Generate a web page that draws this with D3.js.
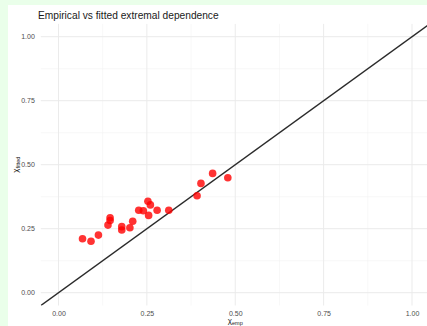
<!DOCTYPE html>
<html>
<head>
<meta charset="utf-8">
<script src="https://cdn.jsdelivr.net/npm/d3@7"></script>
<style>
  body { margin: 0; background: #eaffea; }
  svg { display: block; }
</style>
</head>
<body>
<div id="chart"></div>
<script>
// empirical vs fitted chi values
const chiEmp = [0.068, 0.092, 0.113, 0.140, 0.146, 0.146, 0.179, 0.179, 0.202, 0.210,
                0.227, 0.240, 0.253, 0.260, 0.255, 0.279, 0.312, 0.392, 0.403, 0.436, 0.479];
const chiFitted = [0.211, 0.201, 0.225, 0.264, 0.293, 0.282, 0.258, 0.245, 0.254, 0.279,
                   0.322, 0.320, 0.357, 0.343, 0.302, 0.322, 0.322, 0.379, 0.427, 0.466, 0.449];
const ticks = [0, 0.25, 0.5, 0.75, 1];
const minorTicks = [0.125, 0.375, 0.625, 0.875];

const width = 427, height = 326;

const svg = d3.select("#chart")
    .append("svg")
    .attr("width", width)
    .attr("height", height);

// white plot background
svg.append("rect")
    .attr("x", 8).attr("y", 5)
    .attr("width", width - 8).attr("height", height - 5)
    .attr("fill", "white");

const x = d3.scaleLinear().domain([-0.05, 1.05]).range([40.8, 429.7]);
const y = d3.scaleLinear().domain([-0.05, 1.05]).range([305.5, 23.9]);

const grid = svg.append("g");
grid.selectAll(".vmin").data(minorTicks).enter().append("line")
    .attr("x1", d => x(d)).attr("x2", d => x(d))
    .attr("y1", y(-0.05)).attr("y2", y(1.05))
    .attr("stroke", "#f3f3f3").attr("stroke-width", 0.6);
grid.selectAll(".hmin").data(minorTicks).enter().append("line")
    .attr("y1", d => y(d)).attr("y2", d => y(d))
    .attr("x1", x(-0.05)).attr("x2", x(1.05))
    .attr("stroke", "#f3f3f3").attr("stroke-width", 0.6);
grid.selectAll(".vmaj").data(ticks).enter().append("line")
    .attr("x1", d => x(d)).attr("x2", d => x(d))
    .attr("y1", y(-0.05)).attr("y2", y(1.05))
    .attr("stroke", "#ebebeb").attr("stroke-width", 1);
grid.selectAll(".hmaj").data(ticks).enter().append("line")
    .attr("y1", d => y(d)).attr("y2", d => y(d))
    .attr("x1", x(-0.05)).attr("x2", x(1.05))
    .attr("stroke", "#ebebeb").attr("stroke-width", 1);

// axes (text only, like theme_minimal)
const xAxis = svg.append("g")
    .attr("transform", "translate(0," + (y(-0.05) + 2) + ")")
    .call(d3.axisBottom(x).tickValues(ticks).tickFormat(d3.format(".2f")).tickSize(0).tickPadding(4));
const yAxis = svg.append("g")
    .attr("transform", "translate(" + (x(-0.05) - 5) + ",0)")
    .call(d3.axisLeft(y).tickValues(ticks).tickFormat(d3.format(".2f")).tickSize(0).tickPadding(1));
[xAxis, yAxis].forEach(a => {
    a.select(".domain").remove();
    a.selectAll("text")
        .attr("fill", "#4d4d4d")
        .style("font-family", "Liberation Sans, Arial, sans-serif")
        .style("font-size", "7px");
});

// y = x reference line
const clip = svg.append("clipPath").attr("id", "panel")
    .append("rect")
    .attr("x", x(-0.05)).attr("y", y(1.05))
    .attr("width", x(1.05) - x(-0.05)).attr("height", y(-0.05) - y(1.05));
svg.append("line")
    .attr("clip-path", "url(#panel)")
    .attr("x1", x(-0.05)).attr("y1", y(-0.05))
    .attr("x2", x(1.05)).attr("y2", y(1.05))
    .attr("stroke", "#2b2b2b").attr("stroke-width", 1.5);

// points
svg.selectAll("circle")
    .data(chiEmp)
    .enter().append("circle")
    .attr("cx", d => x(d))
    .attr("cy", (d, i) => y(chiFitted[i]))
    .attr("r", 3.8)
    .attr("fill", "red")
    .attr("fill-opacity", 0.8);

// title
svg.append("text")
    .attr("x", 38).attr("y", 19)
    .style("font-family", "Liberation Sans, Arial, sans-serif")
    .style("font-size", "10.2px")
    .attr("fill", "#1a1a1a")
    .text("Empirical vs fitted extremal dependence");

// axis titles
const xt = svg.append("text")
    .attr("x", x(0.5)).attr("y", 323)
    .attr("text-anchor", "middle")
    .style("font-family", "Liberation Sans, Arial, sans-serif")
    .style("font-size", "8px")
    .attr("fill", "#1a1a1a");
xt.append("tspan").text("χ");
xt.append("tspan").attr("font-size", "5.5px").attr("dy", 1.5).text("emp");

const yt = svg.append("text")
    .attr("transform", "translate(18," + y(0.5) + ") rotate(-90)")
    .attr("text-anchor", "middle")
    .style("font-family", "Liberation Sans, Arial, sans-serif")
    .style("font-size", "8px")
    .attr("fill", "#1a1a1a");
yt.append("tspan").text("χ");
yt.append("tspan").attr("font-size", "5.5px").attr("dy", 1.5).text("fitted");
</script>
</body>
</html>
